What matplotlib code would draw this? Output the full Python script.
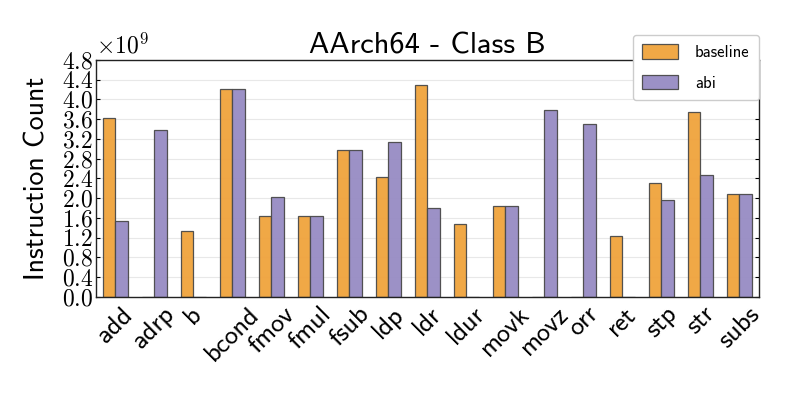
import numpy as np
from matplotlib import pyplot as plt

plt.rcParams['font.family'] = ['cmss10', 'DejaVu Sans']
plt.rcParams['mathtext.fontset'] = 'cm'
plt.rcParams['axes.unicode_minus'] = False

instrs = ['add', 'adrp', 'b', 'bcond', 'fmov', 'fmul', 'fsub', 'ldp', 'ldr',
          'ldur', 'movk', 'movz', 'orr', 'ret', 'stp', 'str', 'subs']
# instruction counts, in units of 1e9
baseline = [3.62, 0.0, 1.34, 4.22, 1.63, 1.64, 2.98, 2.43, 4.29,
            1.47, 1.84, 0.0, 0.0, 1.24, 2.30, 3.75, 2.09]
abi = [1.53, 3.38, 0.0, 4.22, 2.02, 1.64, 2.98, 3.13, 1.80,
       0.0, 1.85, 3.78, 3.50, 0.0, 1.96, 2.46, 2.09]
yticks = [0.0, 0.4, 0.8, 1.2, 1.6, 2.0, 2.4, 2.8, 3.2, 3.6, 4.0, 4.4, 4.8]

x = np.arange(len(instrs))
w = 0.32
scale = 1e9

fig = plt.figure(figsize=(7.93, 3.97), dpi=100)
ax = fig.add_axes([0.121, 0.252, 0.836, 0.597])
ax.bar(x - w/2, np.array(baseline)*scale, w, color='#F0A33C', alpha=0.95,
       edgecolor='#4a4a4a', linewidth=0.9, label='baseline')
ax.bar(x + w/2, np.array(abi)*scale, w, color='#978BC3', alpha=0.95,
       edgecolor='#4a4a4a', linewidth=0.9, label='abi')

ax.set_xlim(-0.5, len(instrs) - 0.5)
ax.set_ylim(0, 4.8*scale)
ax.set_yticks([t*scale for t in yticks])
ax.set_yticklabels([r'$%.1f$' % t for t in yticks], fontsize=17)
ax.set_xticks(x)
ax.set_xticklabels(instrs, rotation=45, fontsize=19)
ax.tick_params(axis='x', length=0, pad=4)
ax.tick_params(axis='y', direction='in', right=True, length=3, pad=2)
ax.text(0, 1.005, r'$\times10^{9}$', transform=ax.transAxes, fontsize=17,
        ha='left', va='bottom')

ax.set_axisbelow(True)
ax.grid(axis='y', color='#e8e8e8', linewidth=0.8)
for s in ax.spines.values():
    s.set_color('#222222')
    s.set_linewidth(1.0)

ax.set_title('AArch64 - Class B', fontsize=22, pad=4)
ax.set_ylabel('Instruction Count', fontsize=20)
ax.yaxis.set_label_coords(-0.07, 0.5)
ax.legend(loc='upper right', bbox_to_anchor=(1.0, 1.105), borderaxespad=0,
          fontsize=12, handlelength=2.2, handleheight=1.0, borderpad=0.55,
          labelspacing=0.85, handletextpad=1.0, framealpha=1.0,
          edgecolor='#cccccc', fancybox=True)

plt.savefig('out.png', dpi=100)
